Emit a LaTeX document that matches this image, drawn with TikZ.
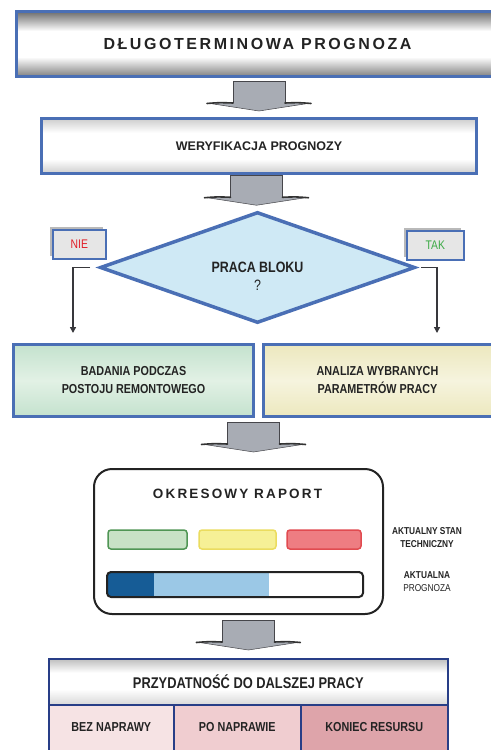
\documentclass[tikz,border=0pt]{standalone}
\usepackage{fontspec}
\setmainfont{Liberation Sans}
\newfontfamily\narrowfont[FakeStretch=0.83]{Liberation Sans}
\newfontfamily\spacedfont[LetterSpace=16]{Liberation Sans}
\usetikzlibrary{shapes.geometric,arrows.meta,calc,shadows}

\definecolor{boxblue}{RGB}{74,111,181}
\definecolor{navy}{RGB}{40,62,135}
\definecolor{inkgray}{RGB}{35,35,35}
\definecolor{arrowgray}{RGB}{168,172,180}
\definecolor{arrowedge}{RGB}{70,70,75}
\definecolor{tubedark}{RGB}{128,128,128}
\definecolor{tubelight}{RGB}{205,205,205}
\definecolor{headgray}{RGB}{190,190,190}
\definecolor{diamondfill}{RGB}{207,233,245}
\definecolor{greenA}{RGB}{196,226,206}
\definecolor{greenB}{RGB}{226,241,229}
\definecolor{yellowA}{RGB}{236,232,190}
\definecolor{yellowB}{RGB}{246,244,222}
\definecolor{labelfill}{RGB}{230,230,230}
\definecolor{nored}{RGB}{225,30,40}
\definecolor{yesgreen}{RGB}{60,170,70}
\definecolor{barGreen}{RGB}{200,226,198}
\definecolor{barGreenEdge}{RGB}{80,150,85}
\definecolor{barYellow}{RGB}{246,240,150}
\definecolor{barYellowEdge}{RGB}{235,220,95}
\definecolor{barRed}{RGB}{238,125,130}
\definecolor{barRedEdge}{RGB}{225,75,80}
\definecolor{progDark}{RGB}{22,92,150}
\definecolor{progLight}{RGB}{155,200,230}
\definecolor{cellA}{RGB}{246,227,228}
\definecolor{cellB}{RGB}{240,205,208}
\definecolor{cellC}{RGB}{222,164,170}

% cylinder-like vertical shadings (stops 25..75 span the path)
\pgfdeclareverticalshading{tube}{100bp}{color(0bp)=(tubedark); color(25bp)=(tubedark);
  color(40bp)=(white); color(60bp)=(white); color(75bp)=(tubedark!85!black); color(100bp)=(tubedark!85!black)}
\pgfdeclareverticalshading{lighttube}{100bp}{color(0bp)=(tubelight); color(25bp)=(tubelight);
  color(38bp)=(white); color(62bp)=(white); color(75bp)=(tubelight); color(100bp)=(tubelight)}
\pgfdeclareverticalshading{headtube}{100bp}{color(0bp)=(headgray!60); color(25bp)=(headgray!60);
  color(42bp)=(white); color(60bp)=(white); color(75bp)=(headgray); color(100bp)=(headgray)}
\pgfdeclareverticalshading{greentube}{100bp}{color(0bp)=(greenA); color(25bp)=(greenA);
  color(50bp)=(greenB); color(75bp)=(greenA); color(100bp)=(greenA)}
\pgfdeclareverticalshading{yellowtube}{100bp}{color(0bp)=(yellowA); color(25bp)=(yellowA);
  color(50bp)=(yellowB); color(75bp)=(yellowA); color(100bp)=(yellowA)}

\tikzset{
  boxbase/.style={draw=boxblue, line width=3bp, anchor=north west, inner sep=0pt,
    text=inkgray, align=center},
  titlebox/.style={boxbase, shading=tube},
  stepbox/.style={boxbase, shading=lighttube},
  greenbox/.style={boxbase, shading=greentube},
  yellowbox/.style={boxbase, shading=yellowtube},
  answerbox/.style={draw=boxblue, line width=1.6bp, fill=labelfill, anchor=north west,
    inner sep=0pt, font=\narrowfont\fontsize{12.5bp}{14bp}\selectfont,
    drop shadow={shadow xshift=-3bp, shadow yshift=3bp, fill=gray!55, opacity=1}},
  decision/.style={diamond, draw=boxblue, line width=3.5bp, fill=diamondfill, inner sep=0pt},
  conn/.style={draw=arrowedge!80!black, line width=1.3bp, -{Triangle[width=6bp,length=6bp]}},
  bar/.style={line width=1.5bp, rounded corners=3bp},
  cell/.style={draw=navy, line width=1.6bp, anchor=north west, inner sep=0pt, text=inkgray},
  narrowbold/.style={font=\narrowfont\bfseries\fontsize{13bp}{18bp}\selectfont},
  sidelabel/.style={text=inkgray, align=center, inner sep=0pt,
    font=\narrowfont\fontsize{10bp}{13bp}\selectfont},
  fatarrow/.pic={
    \fill[arrowgray] (-26,-30) -- (26,-30) -- (26,-8) -- (52,-8) -- (0,0) -- (-52,-8) -- (-26,-8) -- cycle;
    \draw[arrowedge, line width=0.9bp] (-26,-8) -- (-26,-30) -- (26,-30) -- (26,-8);
    \draw[arrowedge, line width=0.5bp] (-52,-8) -- (0,0) -- (52,-8);
    \draw[black!80, line width=1.6bp, line cap=round] (-26,-8) .. controls (-40,-8.5) .. (-52,-7.5);
    \draw[black!80, line width=1.6bp, line cap=round] (26,-8) .. controls (40,-8.5) .. (52,-7.5);
  }
}

\begin{document}
\begin{tikzpicture}[x=1bp, y=-1bp]
\useasboundingbox (0,0) rectangle (491,750);
\clip (0,0) rectangle (491,750);
\fill[white] (0,0) rectangle (491,750);

% long-term forecast banner and verification step
\node[titlebox, minimum width=482bp, minimum height=65bp,
      font=\spacedfont\bfseries\fontsize{16bp}{18bp}\selectfont] (t1) at (15,10)
  {DŁUGOTERMINOWA PROGNOZA};
\node[stepbox, minimum width=435bp, minimum height=55bp,
      font=\bfseries\fontsize{12.5bp}{15bp}\selectfont] (t2) at (40,117)
  {WERYFIKACJA PROGNOZY};

% decision
\node[decision, minimum width=315bp, minimum height=111bp] (dmd) at (257.5,267.5) {};
\node[text=inkgray, align=center, inner sep=0pt,
      font=\narrowfont\fontsize{15bp}{18bp}\selectfont] (dq) at (257.5,276)
  {\textbf{PRACA BLOKU}\\?};

% answers
\node[answerbox, minimum width=53bp, minimum height=29bp, text=nored] (nie) at (52,229) {NIE};
\node[answerbox, minimum width=57bp, minimum height=29bp, text=yesgreen] (tak) at (406,230) {TAK};

% branch boxes
\node[greenbox, narrowbold, minimum width=240bp, minimum height=72bp] (bad) at (12,343)
  {BADANIA PODCZAS\\POSTOJU REMONTOWEGO};
\node[yellowbox, narrowbold, minimum width=238bp, minimum height=72bp] (ana) at (262,343)
  {\hspace*{-10bp}ANALIZA WYBRANYCH\\\hspace*{-10bp}PARAMETRÓW PRACY};

% branch connectors
\coordinate (nieEnd) at ($(bad.north west)+(61,-10)$);
\coordinate (takEnd) at ($(ana.north west)+(175,-10)$);
\draw[conn] ($(dmd.west)+(-8,0)$) -| (nieEnd);
\draw[conn] ($(dmd.east)+(4,0)$) -| (takEnd);

% periodic report
\node[draw=inkgray, line width=2bp, rounded corners=18bp, anchor=north west,
      minimum width=289bp, minimum height=145bp, inner sep=0pt] (rep) at (93,468) {};
\node[text=inkgray, inner sep=0pt, font=\spacedfont\bfseries\fontsize{13.5bp}{15bp}\selectfont]
  (repT) at (237.5,494) {OKRESOWY RAPORT};
\draw[bar, draw=barGreenEdge, fill=barGreen] (108,530) rectangle (187,549);
\draw[bar, draw=barYellowEdge, fill=barYellow] (199,530) rectangle (276,549);
\draw[bar, draw=barRedEdge, fill=barRed] (287,530) rectangle (361,549);
\begin{scope}
  \clip[rounded corners=4bp] (107,572) rectangle (363,597);
  \fill[white] (107,572) rectangle (363,597);
  \fill[progDark] (107,572) rectangle (154,597);
  \fill[progLight] (154,572) rectangle (269,597);
\end{scope}
\draw[line width=2bp, draw=inkgray, rounded corners=4bp] (107,572) rectangle (363,597);
\node[sidelabel, font=\narrowfont\bfseries\fontsize{10bp}{13bp}\selectfont] (lblA) at (427,538)
  {AKTUALNY STAN\\TECHNICZNY};
\node[sidelabel] (lblB) at (427,582) {\textbf{AKTUALNA}\\PROGNOZA};

% fitness table
\node[cell, shading=headtube, minimum width=399bp, minimum height=46bp,
      font=\narrowfont\bfseries\fontsize{15.5bp}{18bp}\selectfont] (tbl) at (48,658)
  {PRZYDATNOŚĆ DO DALSZEJ PRACY};
\node[cell, fill=cellA, minimum width=125bp, minimum height=60bp, narrowbold] (c1) at (48,704)
  {\raisebox{16bp}{BEZ NAPRAWY}};
\node[cell, fill=cellB, minimum width=127bp, minimum height=60bp, narrowbold] (c2) at (173,704)
  {\raisebox{16bp}{PO NAPRAWIE}};
\node[cell, fill=cellC, minimum width=147bp, minimum height=60bp, narrowbold] (c3) at (300,704)
  {\raisebox{16bp}{KONIEC RESURSU}};

% flow arrows between stages
\pic at ($(t2.north)+(0,-6)$) {fatarrow};
\pic at ($(dmd.north)+(-1,-5)$) {fatarrow};
\pic at ($(rep.north)+(15,-16)$) {fatarrow};
\pic at ($(tbl.north)+(0,-8)$) {fatarrow};
\end{tikzpicture}
\end{document}
